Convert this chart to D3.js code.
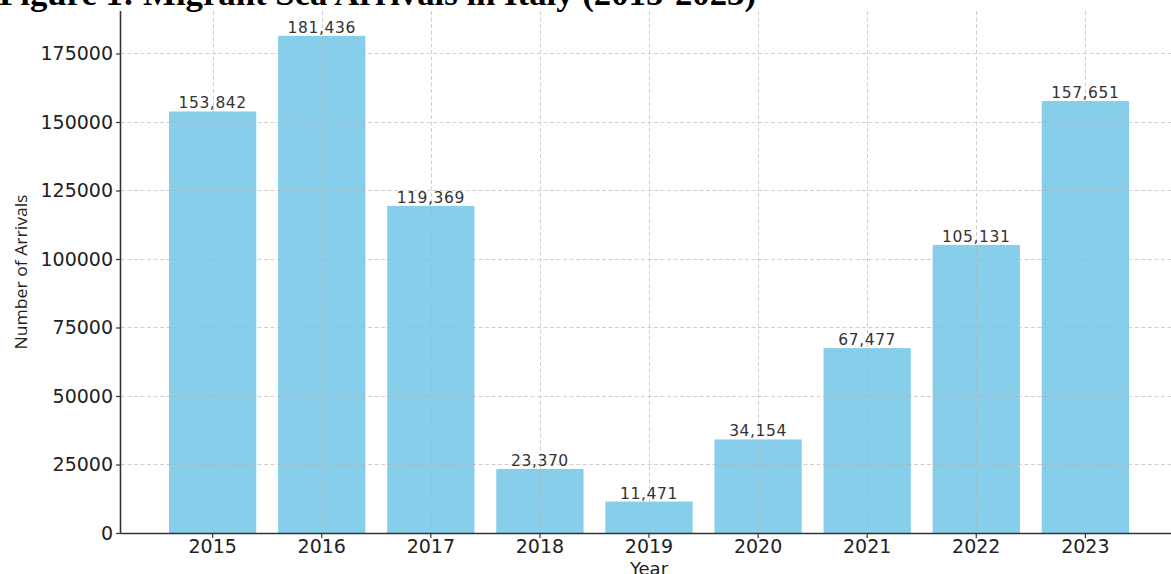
<!DOCTYPE html>
<html>
<head>
<meta charset="utf-8">
<script src="https://cdn.jsdelivr.net/npm/d3@7"></script>
<style>
  html, body { margin: 0; padding: 0; background: #fff; overflow: hidden; }
  svg { display: block; }
</style>
</head>
<body>
<svg id="chart" width="1171" height="574"></svg>
<script>
const years = ["2015", "2016", "2017", "2018", "2019", "2020", "2021", "2022", "2023"];
const arrivals = [153842, 181436, 119369, 23370, 11471, 34154, 67477, 105131, 157651];
const yTicks = [0, 25000, 50000, 75000, 100000, 125000, 150000, 175000];
const titleText = "Figure 1: Migrant Sea Arrivals in Italy (2015-2023)";
const xLabel = "Year";
const yLabel = "Number of Arrivals";

const svg = d3.select("#chart");
const pLeft = 121, pRight = 1177, pTop = 11, pBottom = 533;

const x = d3.scaleBand().domain(years).range([pLeft, pRight])
  .paddingInner(0.2).paddingOuter(0.44);
const y = d3.scaleLinear().domain([0, d3.max(arrivals) * 1.05]).range([pBottom, pTop]);

// bars
svg.append("g").selectAll("rect").data(years).join("rect")
  .attr("x", d => x(d))
  .attr("width", x.bandwidth())
  .attr("y", (d, i) => y(arrivals[i]))
  .attr("height", (d, i) => y(0) - y(arrivals[i]))
  .attr("fill", "#87CEEB");

// grid (drawn over bars)
const grid = svg.append("g").attr("stroke", "#b0b0b0").attr("stroke-opacity", 0.6)
  .attr("stroke-width", 1).attr("stroke-dasharray", "4,2.5");
grid.selectAll("line.h").data(yTicks).join("line").attr("class", "h")
  .attr("x1", pLeft).attr("x2", pRight)
  .attr("y1", d => Math.round(y(d)) + 0.5).attr("y2", d => Math.round(y(d)) + 0.5);
grid.selectAll("line.v").data(years).join("line").attr("class", "v")
  .attr("x1", d => Math.round(x(d) + x.bandwidth() / 2) + 0.5)
  .attr("x2", d => Math.round(x(d) + x.bandwidth() / 2) + 0.5)
  .attr("y1", pTop).attr("y2", pBottom);

// value labels
svg.append("g").selectAll("text").data(years).join("text")
  .attr("x", d => x(d) + x.bandwidth() / 2)
  .attr("y", (d, i) => y(arrivals[i]) - 3)
  .attr("text-anchor", "middle")
  .attr("font-family", "DejaVu Sans")
  .attr("font-size", 15.5)
  .attr("letter-spacing", 0.6)
  .attr("fill", "#333")
  .text((d, i) => d3.format(",")(arrivals[i]));

// axes
const yAxis = svg.append("g").attr("transform", `translate(${pLeft},0)`)
  .call(d3.axisLeft(y).tickValues(yTicks).tickFormat(d3.format("d")).tickSize(5).tickPadding(3));
const xAxis = svg.append("g").attr("transform", `translate(0,${pBottom})`)
  .call(d3.axisBottom(x).tickSize(5).tickPadding(2));
[yAxis, xAxis].forEach(a => {
  a.select(".domain").attr("stroke", "#333").attr("stroke-width", 1.6);
  a.selectAll(".tick line").attr("stroke", "#333").attr("stroke-width", 1.2);
  a.selectAll(".tick text").attr("font-family", "DejaVu Sans").attr("font-size", 19).attr("fill", "#222");
});
xAxis.select(".domain").attr("d", `M${pLeft},0.5H${pRight}`);
yAxis.select(".domain").attr("d", `M-0.5,${pTop}V${pBottom}`);

// axis labels
svg.append("text")
  .attr("x", (pLeft + pRight) / 2).attr("y", 575)
  .attr("text-anchor", "middle")
  .attr("font-family", "DejaVu Sans").attr("font-size", 18).attr("fill", "#222")
  .text(xLabel);
svg.append("text")
  .attr("transform", `translate(27,${(pTop + pBottom) / 2}) rotate(-90)`)
  .attr("text-anchor", "middle")
  .attr("font-family", "Open Sans").attr("font-size", 17).attr("fill", "#222")
  .attr("textLength", 155).attr("lengthAdjust", "spacingAndGlyphs")
  .text(yLabel);

// title (cropped at the top)
svg.append("text")
  .attr("x", -1).attr("y", 5)
  .attr("font-family", "Liberation Serif").attr("font-weight", "bold")
  .attr("font-size", 34).attr("fill", "#000")
  .attr("textLength", 757).attr("lengthAdjust", "spacingAndGlyphs")
  .text(titleText);
</script>
</body>
</html>
